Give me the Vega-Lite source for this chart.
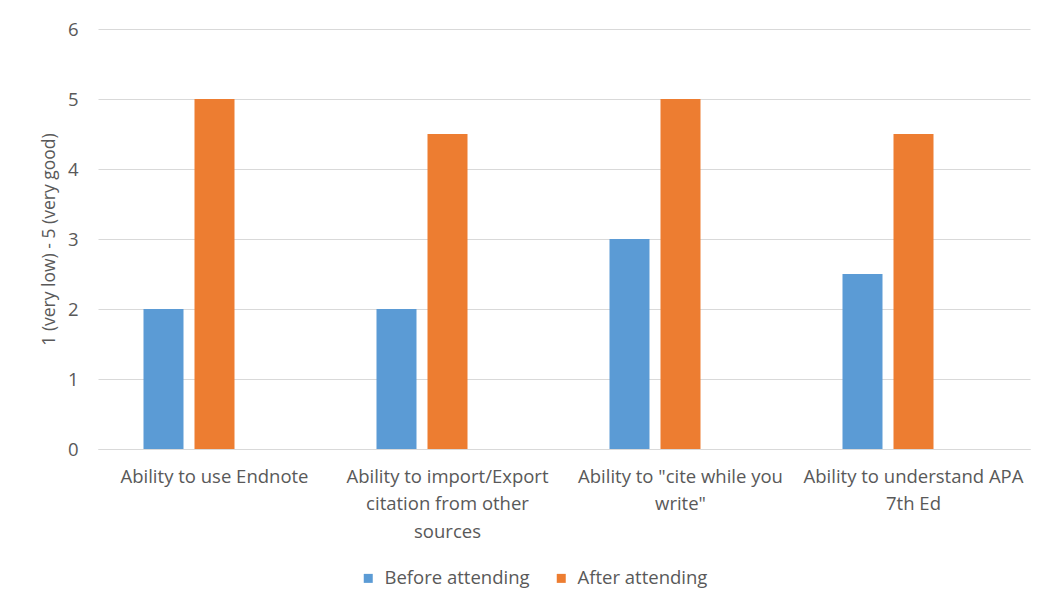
{
  "$schema": "https://vega.github.io/schema/vega-lite/v6.json",
  "width": 932,
  "height": 420,
  "autosize": {"type": "none"},
  "padding": {"left": 98, "top": 29, "right": 16, "bottom": 162},
  "background": "white",
  "config": {
    "font": "Open Sans",
    "view": {"stroke": null},
    "axis": {
      "labelFont": "Open Sans",
      "titleFont": "Open Sans",
      "labelColor": "#595959",
      "titleColor": "#595959",
      "labelFontSize": 18.5,
      "titleFontSize": 17.5,
      "titleFontWeight": "normal",
      "gridColor": "#d9d9d9",
      "domainColor": "#d9d9d9",
      "ticks": false
    },
    "legend": {"labelFont": "Open Sans", "labelFontSize": 18.5, "labelColor": "#595959"}
  },
  "data": {
    "values": [
      {"skill": "Ability to use Endnote", "period": "Before attending", "score": 2},
      {"skill": "Ability to use Endnote", "period": "After attending", "score": 5},
      {"skill": "Ability to import/Export citation from other sources", "period": "Before attending", "score": 2},
      {"skill": "Ability to import/Export citation from other sources", "period": "After attending", "score": 4.5},
      {"skill": "Ability to \"cite while you write\"", "period": "Before attending", "score": 3},
      {"skill": "Ability to \"cite while you write\"", "period": "After attending", "score": 5},
      {"skill": "Ability to understand APA 7th Ed", "period": "Before attending", "score": 2.5},
      {"skill": "Ability to understand APA 7th Ed", "period": "After attending", "score": 4.5}
    ]
  },
  "mark": {"type": "bar"},
  "encoding": {
    "x": {
      "field": "skill",
      "type": "nominal",
      "sort": null,
      "scale": {"paddingInner": 0, "paddingOuter": 0},
      "axis": {
        "title": null,
        "labelAngle": 0,
        "labelPadding": 18,
        "labelBaseline": "top",
        "labelLineHeight": 27.5,
        "labelLimit": 0,
        "domain": true,
        "grid": false,
        "labelExpr": "datum.label == 'Ability to import/Export citation from other sources' ? ['Ability to import/Export', 'citation from other', 'sources'] : datum.label == 'Ability to \"cite while you write\"' ? ['Ability to \"cite while you', 'write\"'] : datum.label == 'Ability to understand APA 7th Ed' ? ['Ability to understand APA', '7th Ed'] : datum.label"
      }
    },
    "xOffset": {
      "field": "period",
      "type": "nominal",
      "scale": {
        "domain": ["Before attending", "After attending", "(unused)"],
        "paddingInner": 0.2157,
        "paddingOuter": 0.892
      }
    },
    "y": {
      "field": "score",
      "type": "quantitative",
      "scale": {"domain": [0, 6]},
      "axis": {
        "title": "1 (very low) - 5 (very good)",
        "values": [0, 1, 2, 3, 4, 5, 6],
        "domain": false,
        "grid": true,
        "labelPadding": 20,
        "titleX": -49,
        "titleY": 210,
        "titleAngle": -90,
        "titleBaseline": "middle",
        "titleAlign": "center"
      }
    },
    "color": {
      "field": "period",
      "type": "nominal",
      "scale": {
        "domain": ["Before attending", "After attending"],
        "range": ["#5B9BD5", "#ED7D31"]
      },
      "legend": {
        "title": null,
        "orient": "none",
        "direction": "horizontal",
        "legendX": 261,
        "legendY": 540,
        "symbolType": "square",
        "symbolSize": 81,
        "symbolStrokeWidth": 0,
        "labelOffset": 7,
        "columnPadding": 22,
        "padding": 0
      }
    }
  }
}
